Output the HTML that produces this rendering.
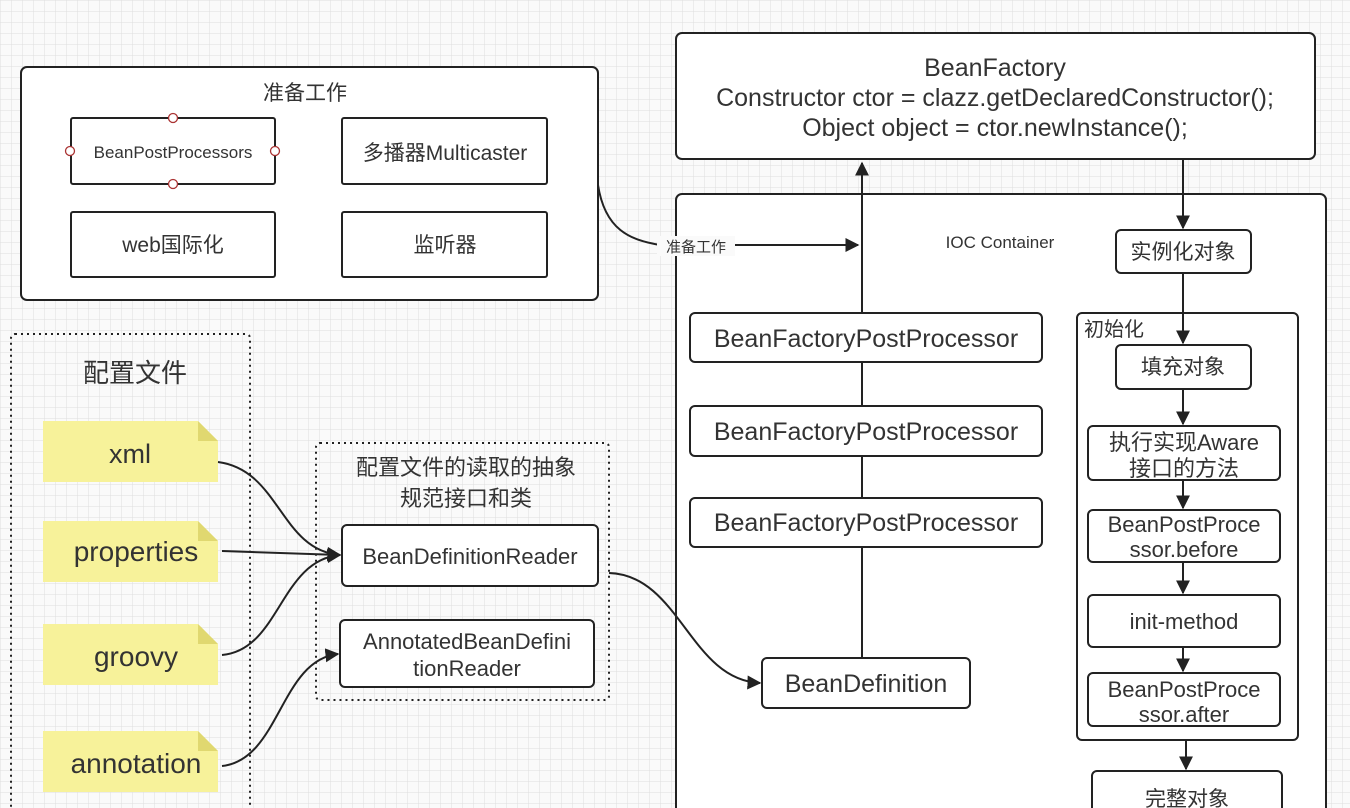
<!DOCTYPE html>
<html><head><meta charset="utf-8"><style>
html,body{margin:0;padding:0;background:#fafafa;}
svg{display:block;font-family:"Liberation Sans","Noto Sans CJK SC",sans-serif;}
text{fill:#333;}
</style></head><body>
<svg width="1350" height="808" viewBox="0 0 1350 808" xmlns="http://www.w3.org/2000/svg">
<defs>
<pattern id="g" width="11" height="11" patternUnits="userSpaceOnUse"><path d="M11 0H0V11" fill="none" stroke="#dedede" stroke-width="1"/></pattern>
<marker id="a" viewBox="0 0 10 10" refX="9" refY="5" markerWidth="7" markerHeight="7" orient="auto"><path d="M0 0L10 5L0 10z" fill="#222"/></marker>
</defs>
<rect width="1350" height="808" fill="#fafafa"/>
<rect width="1350" height="808" fill="url(#g)"/>
<g fill="#fff" stroke="#222" stroke-width="2">
<rect x="21" y="67" width="577" height="233" rx="6"/>
<rect x="71" y="118" width="204" height="66" rx="2"/>
<rect x="342" y="118" width="205" height="66" rx="2"/>
<rect x="71" y="212" width="204" height="65" rx="2"/>
<rect x="342" y="212" width="205" height="65" rx="2"/>
<rect x="676" y="33" width="639" height="126" rx="6"/>
<rect x="676" y="194" width="650" height="640" rx="6"/>
</g>
<g fill="none" stroke="#222" stroke-width="2" marker-end="url(#a)">
<path d="M862 658V163"/>
</g>
<g fill="#fff" stroke="#222" stroke-width="2">
<rect x="690" y="313" width="352" height="49" rx="5"/>
<rect x="690" y="406" width="352" height="50" rx="5"/>
<rect x="690" y="498" width="352" height="49" rx="5"/>
<rect x="762" y="658" width="208" height="50" rx="5"/>
<rect x="1116" y="230" width="135" height="43" rx="5"/>
<rect x="1077" y="313" width="221" height="427" rx="5"/>
<rect x="1116" y="345" width="135" height="44" rx="5"/>
<rect x="1088" y="426" width="192" height="54" rx="5"/>
<rect x="1088" y="510" width="192" height="52" rx="5"/>
<rect x="1088" y="595" width="192" height="52" rx="5"/>
<rect x="1088" y="673" width="192" height="53" rx="5"/>
<rect x="1092" y="771" width="190" height="50" rx="5"/>
<rect x="342" y="525" width="256" height="61" rx="5"/>
<rect x="340" y="620" width="254" height="67" rx="5"/>
</g>
<g fill="none" stroke="#222" stroke-width="2" stroke-dasharray="2,4">
<rect x="11" y="334" width="239" height="500" rx="4"/>
<rect x="316" y="443" width="293" height="257" rx="4"/>
</g>
<g fill="#fff" stroke="#a33" stroke-width="1.3">
<circle cx="173" cy="118" r="4.5"/><circle cx="173" cy="184" r="4.5"/><circle cx="70" cy="151" r="4.5"/><circle cx="275" cy="151" r="4.5"/>
</g>
<g fill="#f7f29a">
<path d="M43 421H198L218 441V482H43z"/><path d="M43 521H198L218 541V582H43z"/><path d="M43 624H198L218 644V685H43z"/><path d="M43 731H198L218 751V792H43z"/>
</g>
<g fill="#e0d870">
<path d="M198 421L218 441H198z"/><path d="M198 521L218 541H198z"/><path d="M198 624L218 644H198z"/><path d="M198 731L218 751H198z"/>
</g>
<g fill="none" stroke="#222" stroke-width="2" marker-end="url(#a)">
<path d="M598 185C605 230 630 240 660 245H858"/>
<path d="M1183 159V228"/>
<path d="M1183 273V343"/>
<path d="M1183 389V424"/>
<path d="M1183 480V508"/>
<path d="M1183 562V593"/>
<path d="M1183 647V671"/>
<path d="M1186 740V769"/>
<path d="M218 462C280 470 280 550 340 555"/>
<path d="M222 551L340 555"/>
<path d="M222 655C280 650 280 560 340 555"/>
<path d="M222 766C280 760 280 660 338 654"/>
<path d="M609 573C680 575 690 680 760 683"/>
</g>
<rect x="657" y="236" width="78" height="20" fill="#fafafa"/>
<g text-anchor="middle">
<text x="305" y="100" font-size="21">准备工作</text>
<text x="173" y="158" font-size="17">BeanPostProcessors</text>
<text x="445" y="160" font-size="21">多播器Multicaster</text>
<text x="173" y="252" font-size="21">web国际化</text>
<text x="445" y="252" font-size="21">监听器</text>
<text x="995" y="76" font-size="25">BeanFactory</text>
<text x="995" y="106" font-size="25">Constructor ctor = clazz.getDeclaredConstructor();</text>
<text x="995" y="136" font-size="25">Object object  = ctor.newInstance();</text>
<text x="696" y="252" font-size="15">准备工作</text>
<text x="1000" y="248" font-size="17">IOC Container</text>
<text x="866" y="347" font-size="25">BeanFactoryPostProcessor</text>
<text x="866" y="440" font-size="25">BeanFactoryPostProcessor</text>
<text x="866" y="531" font-size="25">BeanFactoryPostProcessor</text>
<text x="866" y="692" font-size="25">BeanDefinition</text>
<text x="1183" y="259" font-size="21">实例化对象</text>
<text x="1183" y="374" font-size="21">填充对象</text>
<text x="1184" y="450" font-size="22">执行实现Aware</text>
<text x="1184" y="476" font-size="22">接口的方法</text>
<text x="1184" y="532" font-size="22">BeanPostProce</text>
<text x="1184" y="557" font-size="22">ssor.before</text>
<text x="1184" y="629" font-size="22">init-method</text>
<text x="1184" y="697" font-size="22">BeanPostProce</text>
<text x="1184" y="722" font-size="22">ssor.after</text>
<text x="1187" y="806" font-size="21">完整对象</text>
<text x="135" y="382" font-size="26">配置文件</text>
<text x="130" y="463" font-size="27">xml</text>
<text x="136" y="561" font-size="28">properties</text>
<text x="136" y="666" font-size="28">groovy</text>
<text x="136" y="773" font-size="28">annotation</text>
<text x="466" y="475" font-size="22">配置文件的读取的抽象</text>
<text x="466" y="506" font-size="22">规范接口和类</text>
<text x="470" y="564" font-size="22">BeanDefinitionReader</text>
<text x="467" y="649" font-size="22">AnnotatedBeanDefini</text>
<text x="467" y="676" font-size="22">tionReader</text>
</g>
<text x="1084" y="336" font-size="20">初始化</text>
</svg>
</body></html>
